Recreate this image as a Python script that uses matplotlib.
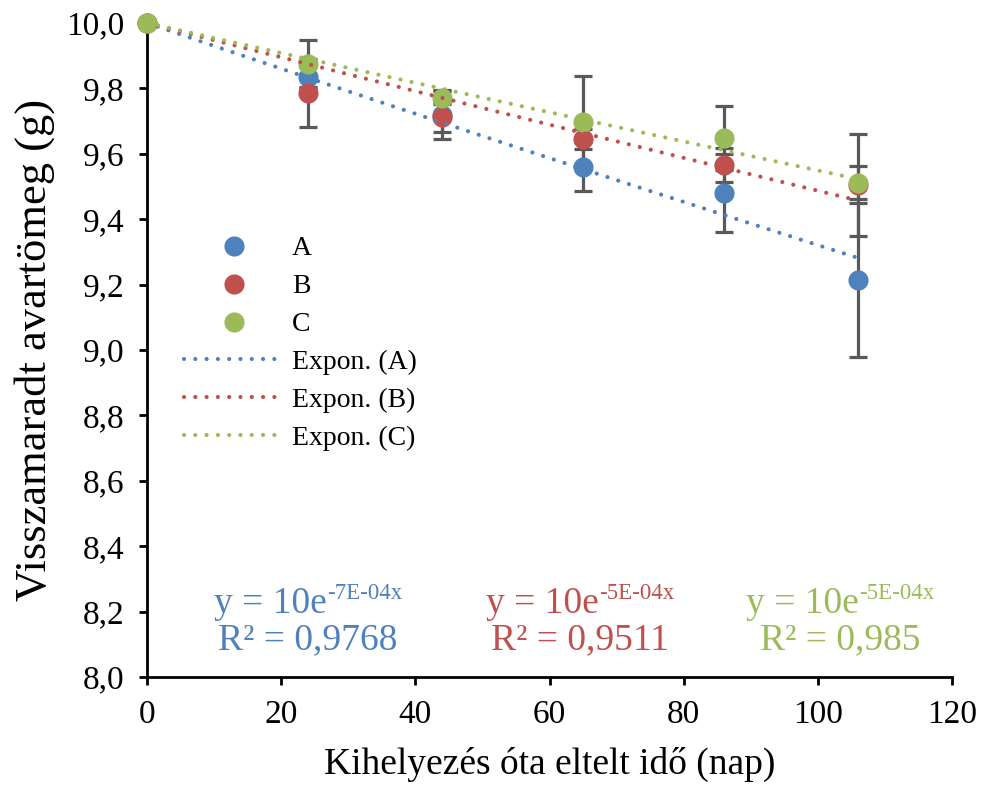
import numpy as np
import matplotlib
matplotlib.use('Agg')
import matplotlib.pyplot as plt
from matplotlib.ticker import FuncFormatter, MultipleLocator
from matplotlib.lines import Line2D

plt.rcParams['font.family'] = ['Liberation Serif', 'DejaVu Serif']

# days since placement
days = [0, 24, 44, 65, 86, 106]

# remaining litter mass (g)
mass_a = [10.0, 9.835, 9.72, 9.56, 9.48, 9.214]
mass_b = [10.0, 9.786, 9.713, 9.645, 9.565, 9.505]
mass_c = [10.0, 9.875, 9.771, 9.697, 9.648, 9.512]

# error bars (+/-)
err_a = [0, 0.03, 0.075, 0.075, 0.12, 0.235]
err_b = [0, 0.104, 0.046, 0.03, 0.052, 0.155]
err_c = [0, 0.073, 0.02, 0.141, 0.098, 0.05]

names = ['A', 'B', 'C']
fit_intercept = 10.0  # trendline intercept set to 10 (as in the equations)
eq_exps = ['-7E-04x', '-5E-04x', '-5E-04x']
r2_labels = ['R² = 0,9768', 'R² = 0,9511', 'R² = 0,985']
eq_x = [308, 580, 840]

colors = ['#4F81BD', '#C0504D', '#9BBB59']
H = 788

fig = plt.figure(figsize=(9.82, 7.88), dpi=100)
ax = fig.add_axes([147/982, 1-677/788, (952-147)/982, (677-23)/788])

series = [mass_a, mass_b, mass_c]
errs = [err_a, err_b, err_c]
xs = np.array(days, dtype=float)
dots = (0, (0.01, 2.7))

handles_pts = []
handles_fit = []
for i, (ys, er) in enumerate(zip(series, errs)):
    ys = np.array(ys)
    ax.errorbar(xs[1:], ys[1:], yerr=np.array(er)[1:], fmt='none', ecolor='#595959',
                elinewidth=2.3, capsize=6.5, capthick=2.3, zorder=2)
    ax.plot(xs, ys, 'o', color=colors[i], markersize=14.5, markeredgewidth=0,
            zorder=4 + i * 0.1, clip_on=False)
    # exponential trendline with fixed intercept
    b = np.sum(xs * np.log(ys / fit_intercept)) / np.sum(xs ** 2)
    xx = np.linspace(0, 106, 200)
    ax.plot(xx, fit_intercept * np.exp(b * xx), color=colors[i], lw=3.0,
            linestyle=dots, dash_capstyle='round', zorder=5)
    handles_pts.append(Line2D([], [], marker='o', ls='none', color=colors[i],
                              markersize=14.5, markeredgewidth=0, label=names[i]))
    handles_fit.append(Line2D([], [], color=colors[i], lw=3.0, linestyle=dots,
                              dash_capstyle='round', label='Expon. (%s)' % names[i]))

ax.set_xlim(0, 120)
ax.set_ylim(8.0, 10.0)
ax.xaxis.set_major_locator(MultipleLocator(20))
ax.yaxis.set_major_locator(MultipleLocator(0.2))
ax.yaxis.set_major_formatter(FuncFormatter(lambda v, p: ('%.1f' % v).replace('.', ',')))

for s in ['top', 'right']:
    ax.spines[s].set_visible(False)
for s in ['left', 'bottom']:
    ax.spines[s].set_linewidth(2)
ax.tick_params(direction='out', length=6, width=2)
ax.tick_params(axis='y', labelsize=24, pad=10)
ax.tick_params(axis='x', labelsize=24, pad=10)

ax.set_xlabel('Kihelyezés óta eltelt idő (nap)', fontsize=27, labelpad=12)
ax.set_ylabel('Visszamaradt avartömeg (g)', fontsize=32, labelpad=8)

fig.legend(handles=handles_pts + handles_fit, loc='upper left',
           bbox_to_anchor=(170/982, 1-222/788), frameon=False, fontsize=20,
           handlelength=3.6, handletextpad=0.3, labelspacing=0.45, borderpad=0)

# trendline equations
r = fig.canvas.get_renderer()
for i in range(3):
    t1 = fig.text(0, 0, 'y = 10e', fontsize=27, color=colors[i], transform=None,
                  va='baseline')
    t2 = fig.text(0, 0, eq_exps[i], fontsize=16.5, color=colors[i], transform=None,
                  va='baseline')
    w1 = t1.get_window_extent(r).width
    w2 = t2.get_window_extent(r).width
    x0 = eq_x[i] - (w1 + w2) / 2
    t1.set_position((x0, H - 613))
    t2.set_position((x0 + w1, H - 599))
    fig.text(eq_x[i], H - 649, r2_labels[i], fontsize=27, color=colors[i],
             transform=None, ha='center', va='baseline')

plt.savefig('out.png', dpi=100)
